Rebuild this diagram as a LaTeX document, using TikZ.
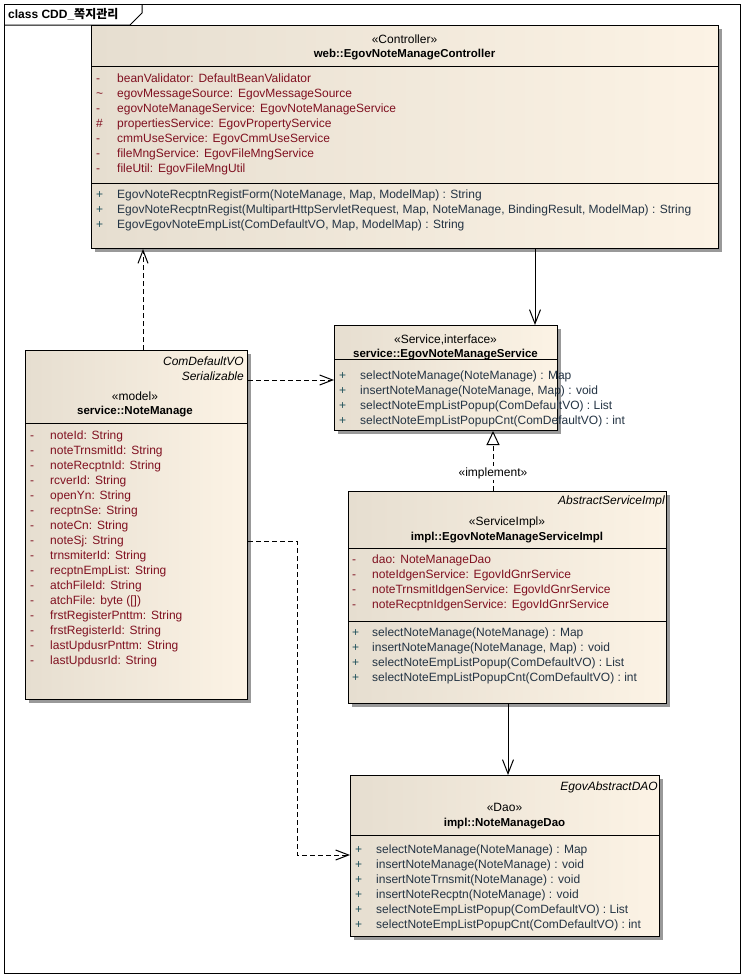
\documentclass[tikz,border=0pt]{standalone}
\usepackage{fontspec}
\setmainfont{Liberation Sans}
\newfontfamily\krfont{Noto Sans CJK KR}
\usetikzlibrary{arrows.meta,shadows}
\definecolor{attrc}{RGB}{128,16,32}
\definecolor{opc}{RGB}{36,52,68}
\definecolor{visc}{RGB}{30,80,90}
\definecolor{boxl}{RGB}{230,222,208}
\definecolor{boxr}{RGB}{252,243,229}
\newcommand\cs{:\ \hspace{1.5pt}}
\begin{document}
\begin{tikzpicture}[x=1pt,y=-1pt,
  font=\fontsize{12}{14}\selectfont,
  cls/.style={draw=black, line width=1pt, left color=boxl, right color=boxr,
    anchor=north west, inner sep=0,
    drop shadow={shadow xshift=3pt, shadow yshift=-3pt, fill=black!40, opacity=1}},
  att/.style={anchor=base west, inner sep=0, text=attrc},
  op/.style={anchor=base west, inner sep=0, text=opc},
  vis/.style={anchor=base west, inner sep=0},
  ctr/.style={anchor=base, inner sep=0},
  nm/.style={anchor=base, inner sep=0, font=\fontsize{11.5}{14}\selectfont\bfseries},
  rt/.style={anchor=base east, inner sep=0, font=\fontsize{12}{14}\selectfont\itshape},
  sep/.style={line width=1pt},
  dep/.style={line width=1pt, dash pattern=on 5pt off 3pt, -{Straight Barb[length=13pt,width=10pt,line width=1pt]}},
  asc/.style={line width=1pt, -{Straight Barb[length=14pt,width=11pt,line width=1pt]}},
  real/.style={line width=1pt, dash pattern=on 5pt off 3pt, -{Triangle[open,length=14pt,width=13pt,line width=1pt,fill=white]}}
]
\useasboundingbox (0,0) rectangle (744,977);
\fill[white] (0,0) rectangle (744,977);
% frame
\node[draw=black, line width=1pt, anchor=north west, minimum width=736pt, minimum height=969pt, inner sep=0] (frame) at (4,4) {};
\draw[line width=1pt] (4,25) -- (130,25) -- (142,13) -- (142,4);
\node[anchor=base west, inner sep=0, font=\fontsize{12}{14}\selectfont\bfseries] (title) at (8,19) {class CDD\_{\krfont 쪽지관리}};

% ===== Controller =====
\node[cls, minimum width=627pt, minimum height=223pt] (ctrl) at (91,25) {};
\draw[sep] (91,66) -- (718,66);
\draw[sep] (91,183) -- (718,183);
\node[ctr] (ctrlst) at (404.5,43) {«Controller»};
\node[nm] (ctrlnm) at (404.5,57) {web::EgovNoteManageController};
\node[vis, text=attrc] (cv1) at (96,82) {-};
\node[vis, text=attrc] (cv2) at (96,97) {\textasciitilde};
\node[vis, text=attrc] (cv3) at (96,112) {-};
\node[vis, text=attrc] (cv4) at (96,127) {\#};
\node[vis, text=attrc] (cv5) at (96,142) {-};
\node[vis, text=attrc] (cv6) at (96,157) {-};
\node[vis, text=attrc] (cv7) at (96,172) {-};
\node[att] (ca1) at (117,82) {beanValidator\cs DefaultBeanValidator};
\node[att] (ca2) at (117,97) {egovMessageSource\cs EgovMessageSource};
\node[att] (ca3) at (117,112) {egovNoteManageService\cs EgovNoteManageService};
\node[att] (ca4) at (117,127) {propertiesService\cs EgovPropertyService};
\node[att] (ca5) at (117,142) {cmmUseService\cs EgovCmmUseService};
\node[att] (ca6) at (117,157) {fileMngService\cs EgovFileMngService};
\node[att] (ca7) at (117,172) {fileUtil\cs EgovFileMngUtil};
\node[vis, text=visc] (cp1) at (96,198) {+};
\node[vis, text=visc] (cp2) at (96,213) {+};
\node[vis, text=visc] (cp3) at (96,228) {+};
\node[op] (co1) at (117,198) {EgovNoteRecptnRegistForm(NoteManage, Map, ModelMap) : String};
\node[op] (co2) at (117,213) {EgovNoteRecptnRegist(MultipartHttpServletRequest, Map, NoteManage, BindingResult, ModelMap) : String};
\node[op] (co3) at (117,228) {EgovEgovNoteEmpList(ComDefaultVO, Map, ModelMap) : String};

% ===== Service interface =====
\node[cls, minimum width=223pt, minimum height=105pt] (svc) at (334,325) {};
\draw[sep] (334,359) -- (557,359);
\node[ctr] (svcst) at (445.5,343) {«Service,interface»};
\node[nm] (svcnm) at (445.5,357) {service::EgovNoteManageService};
\foreach \yy [count=\i] in {379,394,409,424} {
  \node[vis, text=visc] (sp\i) at (339,\yy) {+};
}
\node[op] (so1) at (360,379) {selectNoteManage(NoteManage) : Map};
\node[op] (so2) at (360,394) {insertNoteManage(NoteManage, Map) : void};
\node[op] (so3) at (360,409) {selectNoteEmpListPopup(ComDefaultVO) : List};
\node[op] (so4) at (360,424) {selectNoteEmpListPopupCnt(ComDefaultVO) : int};

% ===== NoteManage =====
\node[cls, minimum width=222pt, minimum height=349pt] (nm) at (25,350) {};
\draw[sep] (25,423) -- (247,423);
\node[rt] (nmp1) at (244,365) {ComDefaultVO};
\node[rt] (nmp2) at (244,380) {Serializable};
\node[ctr] (nmst) at (135,400) {«model»};
\node[nm] (nmnm) at (135,414) {service::NoteManage};
\foreach \t [count=\i] in {{noteId\cs String},{noteTrnsmitId\cs String},{noteRecptnId\cs String},
  {rcverId\cs String},{openYn\cs String},{recptnSe\cs String},{noteCn\cs String},
  {noteSj\cs String},{trnsmiterId\cs String},{recptnEmpList\cs String},{atchFileId\cs String},
  {atchFile\cs byte ([])},{frstRegisterPnttm\cs String},{frstRegisterId\cs String},
  {lastUpdusrPnttm\cs String},{lastUpdusrId\cs String}} {
  \node[vis, text=attrc] (nv\i) at (30,{439+15*(\i-1)}) {-};
  \node[att] (na\i) at (50,{439+15*(\i-1)}) {\t};
}

% ===== Impl =====
\node[cls, minimum width=318pt, minimum height=212pt] (impl) at (348,491) {};
\draw[sep] (348,548) -- (666,548);
\draw[sep] (348,621) -- (666,621);
\node[rt] (imp1) at (665,504) {AbstractServiceImpl};
\node[ctr] (impst) at (507,525) {«ServiceImpl»};
\node[nm] (impnm) at (507,540) {impl::EgovNoteManageServiceImpl};
\foreach \yy [count=\i] in {563,578,593,608} {
  \node[vis, text=attrc] (iv\i) at (352,\yy) {-};
}
\node[att] (ia1) at (372,563) {dao\cs NoteManageDao};
\node[att] (ia2) at (372,578) {noteIdgenService\cs EgovIdGnrService};
\node[att] (ia3) at (372,593) {noteTrnsmitIdgenService\cs EgovIdGnrService};
\node[att] (ia4) at (372,608) {noteRecptnIdgenService\cs EgovIdGnrService};
\foreach \yy [count=\i] in {636,651,666,681} {
  \node[vis, text=visc] (ip\i) at (352,\yy) {+};
}
\node[op] (io1) at (372,636) {selectNoteManage(NoteManage) : Map};
\node[op] (io2) at (372,651) {insertNoteManage(NoteManage, Map) : void};
\node[op] (io3) at (372,666) {selectNoteEmpListPopup(ComDefaultVO) : List};
\node[op] (io4) at (372,681) {selectNoteEmpListPopupCnt(ComDefaultVO) : int};

% ===== Dao =====
\node[cls, minimum width=309pt, minimum height=161pt] (dao) at (350,775) {};
\draw[sep] (350,835) -- (659,835);
\node[rt] (daop1) at (658,790) {EgovAbstractDAO};
\node[ctr] (daost) at (504.5,811) {«Dao»};
\node[nm] (daonm) at (504.5,826) {impl::NoteManageDao};
\foreach \yy [count=\i] in {853,868,883,898,913,928} {
  \node[vis, text=visc] (dp\i) at (355,\yy) {+};
}
\node[op] (do1) at (376,853) {selectNoteManage(NoteManage) : Map};
\node[op] (do2) at (376,868) {insertNoteManage(NoteManage) : void};
\node[op] (do3) at (376,883) {insertNoteTrnsmit(NoteManage) : void};
\node[op] (do4) at (376,898) {insertNoteRecptn(NoteManage) : void};
\node[op] (do5) at (376,913) {selectNoteEmpListPopup(ComDefaultVO) : List};
\node[op] (do6) at (376,928) {selectNoteEmpListPopupCnt(ComDefaultVO) : int};

% ===== connectors =====
\coordinate (xa) at (143,0);
\coordinate (xb) at (535,0);
\coordinate (xc) at (493,0);
\coordinate (xd) at (508,0);
\coordinate (ya) at (0,380);
\coordinate (yb) at (0,541);
\coordinate (yc) at (0,855);
\coordinate (xe) at (297,0);
\draw[dep] (nm.north -| xa) -- (ctrl.south -| xa);
\draw[dep] (nm.east |- ya) -- (svc.west |- ya);
\draw[asc] (ctrl.south -| xb) -- (svc.north -| xb);
\draw[real] (impl.north -| xc) -- node[fill=white, inner sep=1pt, pos=0.3] (impl-lbl) {«implement»} (svc.south -| xc);
\draw[dep] (nm.east |- yb) -- (xe |- yb) -- (xe |- yc) -- (dao.west |- yc);
\draw[asc] (impl.south -| xd) -- (dao.north -| xd);
\end{tikzpicture}
\end{document}
